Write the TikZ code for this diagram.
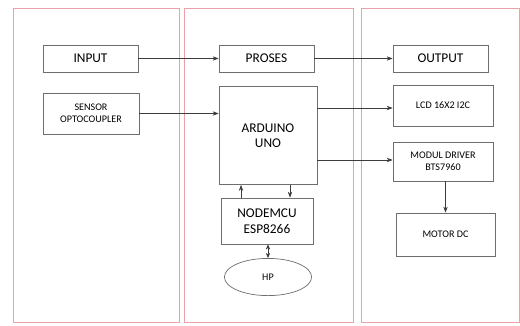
\documentclass[tikz,border=0pt]{standalone}
\usepackage{fontspec}
\setmainfont{Carlito}
\usepackage{xcolor}
\usetikzlibrary{arrows.meta,calc,shapes.geometric}
\definecolor{panelline}{RGB}{236,160,170}
\definecolor{boxline}{RGB}{110,110,110}
\definecolor{arrowline}{RGB}{60,60,60}

\begin{document}
\begin{tikzpicture}[
  x=0.025cm, y=-0.025cm,
  panel/.style={draw=panelline, line width=0.6pt},
  block/.style={draw=boxline, line width=0.5pt, align=center, inner sep=1pt},
  big/.style={font=\fontsize{9.5}{11}\selectfont},
  tiny/.style={font=\fontsize{7.2}{8.8}\selectfont},
  arr/.style={-{Stealth[length=1.5mm,width=1.1mm]}, draw=arrowline, line width=0.45pt},
  darr/.style={{Stealth[length=1.3mm,width=1.1mm]}-{Stealth[length=1.3mm,width=1.1mm]}, draw=arrowline, line width=0.45pt}
]
\useasboundingbox (0,0) rectangle (520,325);

% three columns
\draw[panel] (13,8) rectangle (179,322);
\draw[panel] (184,8) rectangle (353,322);
\draw[panel] (361,8) rectangle (519,322);

% input side
\node[block, big, minimum width=2.375cm, minimum height=0.675cm] (input) at (90.5,58.5) {INPUT};
\node[block, tiny, minimum width=2.4cm, minimum height=1.025cm] (sensor) at (91,113.5) {SENSOR\\OPTOCOUPLER};

% process side
\node[block, big, minimum width=2.375cm, minimum height=0.675cm] (proses) at (266.5,58.5) {PROSES};
\node[block, big, minimum width=2.45cm, minimum height=2.45cm] (arduino) at (268,135.5) {ARDUINO\\UNO};
\node[block, big, minimum width=2.3cm, minimum height=1.15cm] (nodemcu) at (267,221) {NODEMCU\\ESP8266};
\node[ellipse, draw=boxline, line width=0.5pt, tiny, minimum width=2.18cm, minimum height=0.93cm] (hp) at (268,277) {HP};

% output side
\node[block, big, minimum width=2.375cm, minimum height=0.675cm] (output) at (440.5,58.5) {OUTPUT};
\node[block, tiny, minimum width=2.5cm, minimum height=1.025cm] (lcd) at (443,105.5) {LCD 16X2 I2C};
\node[block, tiny, minimum width=2.5cm, minimum height=0.975cm] (driver) at (443,161.5) {MODUL DRIVER\\BTS7960};
\node[block, tiny, minimum width=2.475cm, minimum height=1.075cm] (motor) at (445.5,234.5) {MOTOR DC};

% connections
\draw[arr] (input.east) -- (proses.west);
\draw[arr] (proses.east) -- (output.west);
\draw[arr] (sensor.east) -- (sensor.east -| arduino.west);
\draw[arr] ($(arduino.east |- lcd.west)+(0,2.5)$) -- ($(lcd.west)+(0,2.5)$);
\draw[arr] ($(arduino.east |- driver.west)+(0,-1.5)$) -- ($(driver.west)+(0,-1.5)$);
\draw[arr] (driver.south -| motor.north) -- (motor.north);
\draw[arr] ($(nodemcu.north)+(-26,0)$) -- ($(arduino.south)+(-27,0)$);
\draw[arr] ($(arduino.south)+(22,0)$) -- ($(nodemcu.north)+(23,0)$);
\draw[darr] (nodemcu.south -| hp.north) -- (hp.north);
\end{tikzpicture}
\end{document}
